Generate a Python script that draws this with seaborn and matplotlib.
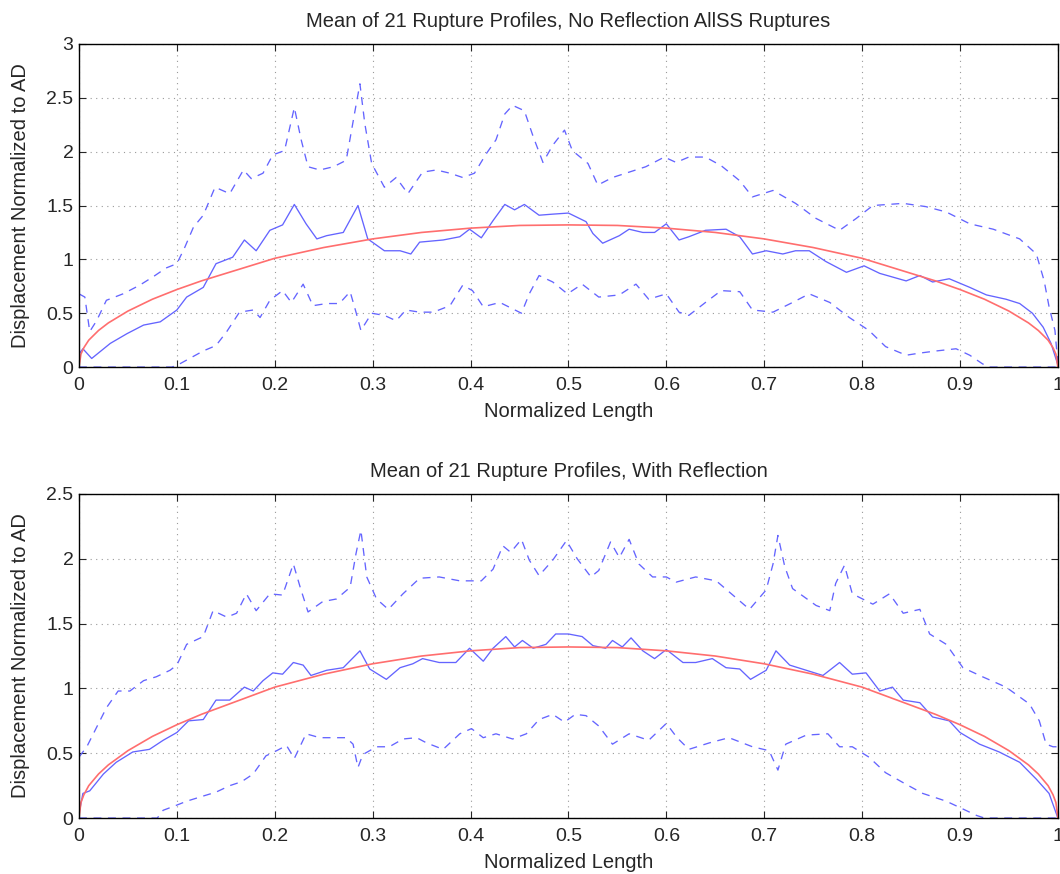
import numpy as np
import pandas as pd
import matplotlib
matplotlib.use("Agg")
import matplotlib.pyplot as plt
import seaborn as sns

# ---- top panel: no reflection ----
TOP_MEAN_X = [0, 0.004, 0.013, 0.032, 0.049, 0.066, 0.083, 0.1, 0.11, 0.127, 0.14, 0.157, 0.169, 0.181,
              0.195, 0.208, 0.22, 0.232, 0.243, 0.253, 0.27, 0.285, 0.295, 0.312, 0.328, 0.339, 0.348,
              0.372, 0.389, 0.399, 0.411, 0.423, 0.435, 0.445, 0.455, 0.47, 0.484, 0.5, 0.518, 0.525,
              0.535, 0.552, 0.562, 0.576, 0.588, 0.6, 0.613, 0.623, 0.64, 0.661, 0.675, 0.688, 0.702,
              0.719, 0.732, 0.746, 0.763, 0.784, 0.802, 0.818, 0.845, 0.859, 0.872, 0.889, 0.91, 0.927,
              0.947, 0.961, 0.974, 0.985, 0.993, 1.0]
TOP_MEAN_Y = [0.12, 0.17, 0.08, 0.22, 0.31, 0.39, 0.42, 0.53, 0.65, 0.74, 0.96, 1.02, 1.18, 1.08,
              1.27, 1.32, 1.51, 1.33, 1.19, 1.22, 1.25, 1.50, 1.19, 1.08, 1.08, 1.05, 1.16,
              1.18, 1.21, 1.28, 1.20, 1.36, 1.51, 1.46, 1.51, 1.41, 1.42, 1.43, 1.35, 1.24,
              1.15, 1.22, 1.28, 1.25, 1.25, 1.33, 1.18, 1.21, 1.27, 1.28, 1.21, 1.05, 1.08,
              1.05, 1.08, 1.08, 0.98, 0.88, 0.94, 0.87, 0.80, 0.85, 0.79, 0.82, 0.74, 0.67,
              0.63, 0.59, 0.50, 0.37, 0.22, 0.02]

TOP_UP_X = [0, 0.006, 0.011, 0.018, 0.028, 0.045, 0.062, 0.076, 0.089, 0.1, 0.108, 0.117, 0.127, 0.139,
            0.154, 0.168, 0.176, 0.188, 0.198, 0.21, 0.22, 0.227, 0.234, 0.246, 0.26, 0.273, 0.282,
            0.287, 0.292, 0.299, 0.312, 0.324, 0.336, 0.351, 0.365, 0.379, 0.392, 0.404, 0.416, 0.426,
            0.435, 0.443, 0.455, 0.464, 0.474, 0.484, 0.496, 0.504, 0.52, 0.53, 0.545, 0.562, 0.579,
            0.598, 0.61, 0.623, 0.64, 0.656, 0.675, 0.688, 0.709, 0.732, 0.753, 0.777, 0.794, 0.811,
            0.842, 0.865, 0.886, 0.91, 0.934, 0.961, 0.978, 0.986, 0.991, 0.997, 1.0]
TOP_UP_Y = [0.68, 0.65, 0.33, 0.43, 0.62, 0.68, 0.76, 0.84, 0.92, 0.96, 1.11, 1.30, 1.41, 1.67,
            1.61, 1.83, 1.75, 1.80, 1.97, 2.01, 2.41, 2.11, 1.86, 1.83, 1.86, 1.92, 2.38,
            2.63, 2.26, 1.89, 1.67, 1.76, 1.61, 1.81, 1.83, 1.80, 1.76, 1.80, 1.98, 2.11,
            2.35, 2.43, 2.38, 2.14, 1.90, 2.06, 2.20, 2.01, 1.89, 1.69, 1.76, 1.81, 1.86,
            1.95, 1.90, 1.95, 1.95, 1.87, 1.73, 1.58, 1.64, 1.52, 1.38, 1.27, 1.38, 1.50,
            1.52, 1.49, 1.44, 1.33, 1.28, 1.19, 1.05, 0.80, 0.56, 0.34, 0.03]

TOP_LO_X = [0, 0.095, 0.103, 0.113, 0.127, 0.14, 0.151, 0.164, 0.178, 0.185, 0.195, 0.208, 0.217, 0.229,
            0.239, 0.253, 0.266, 0.277, 0.283, 0.288, 0.299, 0.312, 0.324, 0.334, 0.348, 0.362, 0.379,
            0.392, 0.402, 0.413, 0.43, 0.452, 0.46, 0.47, 0.484, 0.499, 0.514, 0.531, 0.552, 0.569,
            0.582, 0.6, 0.613, 0.623, 0.64, 0.656, 0.675, 0.688, 0.709, 0.729, 0.746, 0.767, 0.787,
            0.807, 0.824, 0.845, 0.859, 0.876, 0.896, 0.91, 0.923, 0.93, 1.0]
TOP_LO_Y = [0, 0, 0.03, 0.08, 0.15, 0.20, 0.33, 0.51, 0.53, 0.46, 0.62, 0.71, 0.60, 0.77,
            0.57, 0.59, 0.59, 0.70, 0.51, 0.34, 0.50, 0.48, 0.43, 0.53, 0.51, 0.51, 0.57,
            0.76, 0.71, 0.56, 0.60, 0.50, 0.68, 0.85, 0.79, 0.68, 0.77, 0.65, 0.67, 0.77,
            0.63, 0.68, 0.51, 0.48, 0.60, 0.71, 0.70, 0.53, 0.51, 0.60, 0.68, 0.60, 0.46,
            0.34, 0.19, 0.11, 0.13, 0.15, 0.17, 0.11, 0.03, 0, 0]

# ---- bottom panel: with reflection ----
BOT_MEAN_X = [0, 0.004, 0.011, 0.025, 0.038, 0.055, 0.072, 0.086, 0.1, 0.112, 0.127, 0.14, 0.154, 0.169,
              0.178, 0.188, 0.198, 0.208, 0.219, 0.229, 0.237, 0.253, 0.27, 0.287, 0.297, 0.314, 0.328,
              0.341, 0.351, 0.368, 0.385, 0.399, 0.413, 0.423, 0.436, 0.445, 0.453, 0.464, 0.477, 0.487,
              0.5, 0.514, 0.525, 0.538, 0.545, 0.555, 0.564, 0.576, 0.588, 0.6, 0.617, 0.63, 0.647,
              0.661, 0.675, 0.686, 0.702, 0.712, 0.726, 0.743, 0.76, 0.777, 0.79, 0.804, 0.818, 0.831,
              0.842, 0.859, 0.872, 0.889, 0.9, 0.92, 0.94, 0.961, 0.978, 0.991, 1.0]
BOT_MEAN_Y = [0.03, 0.19, 0.21, 0.34, 0.43, 0.51, 0.53, 0.60, 0.66, 0.75, 0.76, 0.91, 0.91, 1.01,
              0.98, 1.06, 1.12, 1.11, 1.20, 1.18, 1.10, 1.14, 1.16, 1.29, 1.15, 1.07, 1.16,
              1.19, 1.23, 1.20, 1.20, 1.31, 1.21, 1.31, 1.40, 1.32, 1.37, 1.31, 1.34, 1.42,
              1.42, 1.40, 1.33, 1.31, 1.37, 1.32, 1.39, 1.29, 1.23, 1.30, 1.20, 1.20, 1.23,
              1.16, 1.15, 1.07, 1.14, 1.29, 1.18, 1.14, 1.10, 1.20, 1.11, 1.12, 0.98, 1.01,
              0.91, 0.89, 0.78, 0.75, 0.66, 0.57, 0.51, 0.43, 0.30, 0.19, 0.0]

BOT_UP_X = [0, 0.008, 0.018, 0.028, 0.04, 0.052, 0.066, 0.079, 0.093, 0.1, 0.11, 0.127, 0.137, 0.151,
            0.161, 0.171, 0.181, 0.195, 0.208, 0.219, 0.226, 0.234, 0.249, 0.263, 0.277, 0.283, 0.288,
            0.294, 0.304, 0.316, 0.331, 0.348, 0.368, 0.389, 0.411, 0.423, 0.433, 0.441, 0.452, 0.46,
            0.47, 0.484, 0.498, 0.509, 0.523, 0.531, 0.543, 0.552, 0.562, 0.572, 0.586, 0.6, 0.61,
            0.63, 0.651, 0.668, 0.685, 0.702, 0.709, 0.714, 0.721, 0.729, 0.753, 0.767, 0.773, 0.782,
            0.79, 0.811, 0.828, 0.842, 0.859, 0.869, 0.886, 0.903, 0.923, 0.947, 0.971, 0.981, 0.988,
            0.995, 1.0]
BOT_UP_Y = [0.47, 0.55, 0.70, 0.85, 0.98, 0.98, 1.06, 1.09, 1.14, 1.18, 1.34, 1.40, 1.60, 1.55,
            1.58, 1.73, 1.60, 1.73, 1.72, 1.96, 1.78, 1.59, 1.67, 1.69, 1.78, 2.04, 2.22,
            1.86, 1.69, 1.61, 1.73, 1.85, 1.86, 1.83, 1.83, 1.92, 2.10, 2.05, 2.15, 1.99,
            1.87, 1.99, 2.14, 2.00, 1.86, 1.91, 2.13, 2.01, 2.15, 1.96, 1.86, 1.86, 1.82,
            1.86, 1.83, 1.72, 1.61, 1.76, 1.96, 2.18, 1.94, 1.77, 1.64, 1.60, 1.81, 1.95,
            1.73, 1.65, 1.73, 1.58, 1.61, 1.42, 1.34, 1.16, 1.09, 1.01, 0.88, 0.75, 0.57,
            0.55, 0.55]

BOT_LO_X = [0, 0.08, 0.086, 0.1, 0.11, 0.127, 0.14, 0.154, 0.166, 0.178, 0.191, 0.202, 0.212, 0.22,
            0.232, 0.246, 0.26, 0.273, 0.28, 0.285, 0.29, 0.304, 0.317, 0.331, 0.345, 0.355, 0.372,
            0.389, 0.401, 0.413, 0.426, 0.443, 0.457, 0.47, 0.484, 0.496, 0.507, 0.518, 0.531, 0.545,
            0.562, 0.582, 0.6, 0.611, 0.623, 0.644, 0.664, 0.688, 0.705, 0.714, 0.722, 0.743, 0.765,
            0.777, 0.79, 0.807, 0.824, 0.845, 0.862, 0.886, 0.903, 0.917, 0.925, 1.0]
BOT_LO_Y = [0, 0, 0.06, 0.10, 0.13, 0.17, 0.20, 0.25, 0.28, 0.34, 0.48, 0.52, 0.56, 0.46,
            0.65, 0.62, 0.62, 0.62, 0.57, 0.39, 0.49, 0.55, 0.55, 0.61, 0.62, 0.58, 0.53,
            0.65, 0.69, 0.62, 0.65, 0.61, 0.65, 0.76, 0.80, 0.74, 0.80, 0.79, 0.71, 0.57,
            0.65, 0.60, 0.73, 0.62, 0.53, 0.58, 0.62, 0.55, 0.52, 0.37, 0.57, 0.64, 0.65,
            0.55, 0.55, 0.47, 0.35, 0.26, 0.19, 0.13, 0.07, 0.02, 0, 0]

# ---- fitted profile (same in both panels) ----
FIT_X = [0, 0.002, 0.005, 0.01, 0.02, 0.03, 0.05, 0.075, 0.1, 0.125, 0.15, 0.2, 0.25, 0.3, 0.35,
         0.4, 0.45, 0.5, 0.55, 0.6, 0.65, 0.7, 0.75, 0.8, 0.85, 0.875, 0.9, 0.925, 0.95, 0.97,
         0.98, 0.99, 0.995, 0.998, 1.0]
FIT_Y = [0, 0.12, 0.18, 0.25, 0.34, 0.41, 0.52, 0.63, 0.72, 0.80, 0.87, 1.01, 1.11, 1.19, 1.25,
         1.29, 1.315, 1.32, 1.315, 1.29, 1.25, 1.19, 1.11, 1.01, 0.87, 0.80, 0.72, 0.63, 0.52, 0.41,
         0.34, 0.25, 0.18, 0.12, 0]

TITLES = ["Mean of 21 Rupture Profiles, No Reflection AllSS Ruptures",
          "Mean of 21 Rupture Profiles, With Reflection"]
YMAX = [3, 2.5]
XTICKS = [0, 0.1, 0.2, 0.3, 0.4, 0.5, 0.6, 0.7, 0.8, 0.9, 1]

BLUE = "#6464ff"
RED = "#ff6e6e"

sns.set_style("ticks")
plt.rcParams["font.family"] = ["Liberation Sans", "DejaVu Sans"]

fig = plt.figure(figsize=(10.6, 8.74), dpi=100)
ax_top = fig.add_axes([0.0745, 0.580, 0.9235, 0.3697])
ax_bot = fig.add_axes([0.0745, 0.064, 0.9235, 0.3708])

panels = [
    (ax_top, TOP_MEAN_X, TOP_MEAN_Y, TOP_UP_X, TOP_UP_Y, TOP_LO_X, TOP_LO_Y),
    (ax_bot, BOT_MEAN_X, BOT_MEAN_Y, BOT_UP_X, BOT_UP_Y, BOT_LO_X, BOT_LO_Y),
]

for i, (ax, mx, my, ux, uy, lx, ly) in enumerate(panels):
    # mean +/- one std (dashed), mean (solid), fitted profile (red)
    sns.lineplot(x=ux, y=uy, ax=ax, color=BLUE, lw=0.95, estimator=None, sort=False,
                 linestyle=(0, (6, 5)))
    sns.lineplot(x=lx, y=ly, ax=ax, color=BLUE, lw=0.95, estimator=None, sort=False,
                 linestyle=(0, (6, 5)))
    sns.lineplot(x=mx, y=my, ax=ax, color=BLUE, lw=0.95, estimator=None, sort=False)
    sns.lineplot(x=FIT_X, y=FIT_Y, ax=ax, color=RED, lw=1.2, estimator=None, sort=False)

    ax.set_xlim(0, 1)
    ax.set_ylim(0, YMAX[i])
    ax.set_xticks(XTICKS)
    ax.set_xticklabels([f"{v:g}" for v in XTICKS])
    yt = np.arange(0, YMAX[i] + 0.01, 0.5)
    ax.set_yticks(yt)
    ax.set_yticklabels([f"{v:g}" for v in yt])
    ax.tick_params(direction="in", top=True, right=True, labelsize=14, length=5, width=0.8)
    ax.tick_params(axis="x", pad=7)
    ax.tick_params(axis="y", pad=4)
    ax.grid(True, linestyle=(0, (1, 4)), color="#9a9a9a", linewidth=0.8)
    for s in ax.spines.values():
        s.set_color("black")
        s.set_linewidth(1.0)
        s.set_visible(True)
    ax.set_title(TITLES[i], fontsize=14.5, pad=12)
    ax.set_xlabel("Normalized Length", fontsize=14.5, labelpad=6)
    ax.set_ylabel("Displacement Normalized to AD", fontsize=14.5, labelpad=12)

fig.savefig("out.png", dpi=100)
